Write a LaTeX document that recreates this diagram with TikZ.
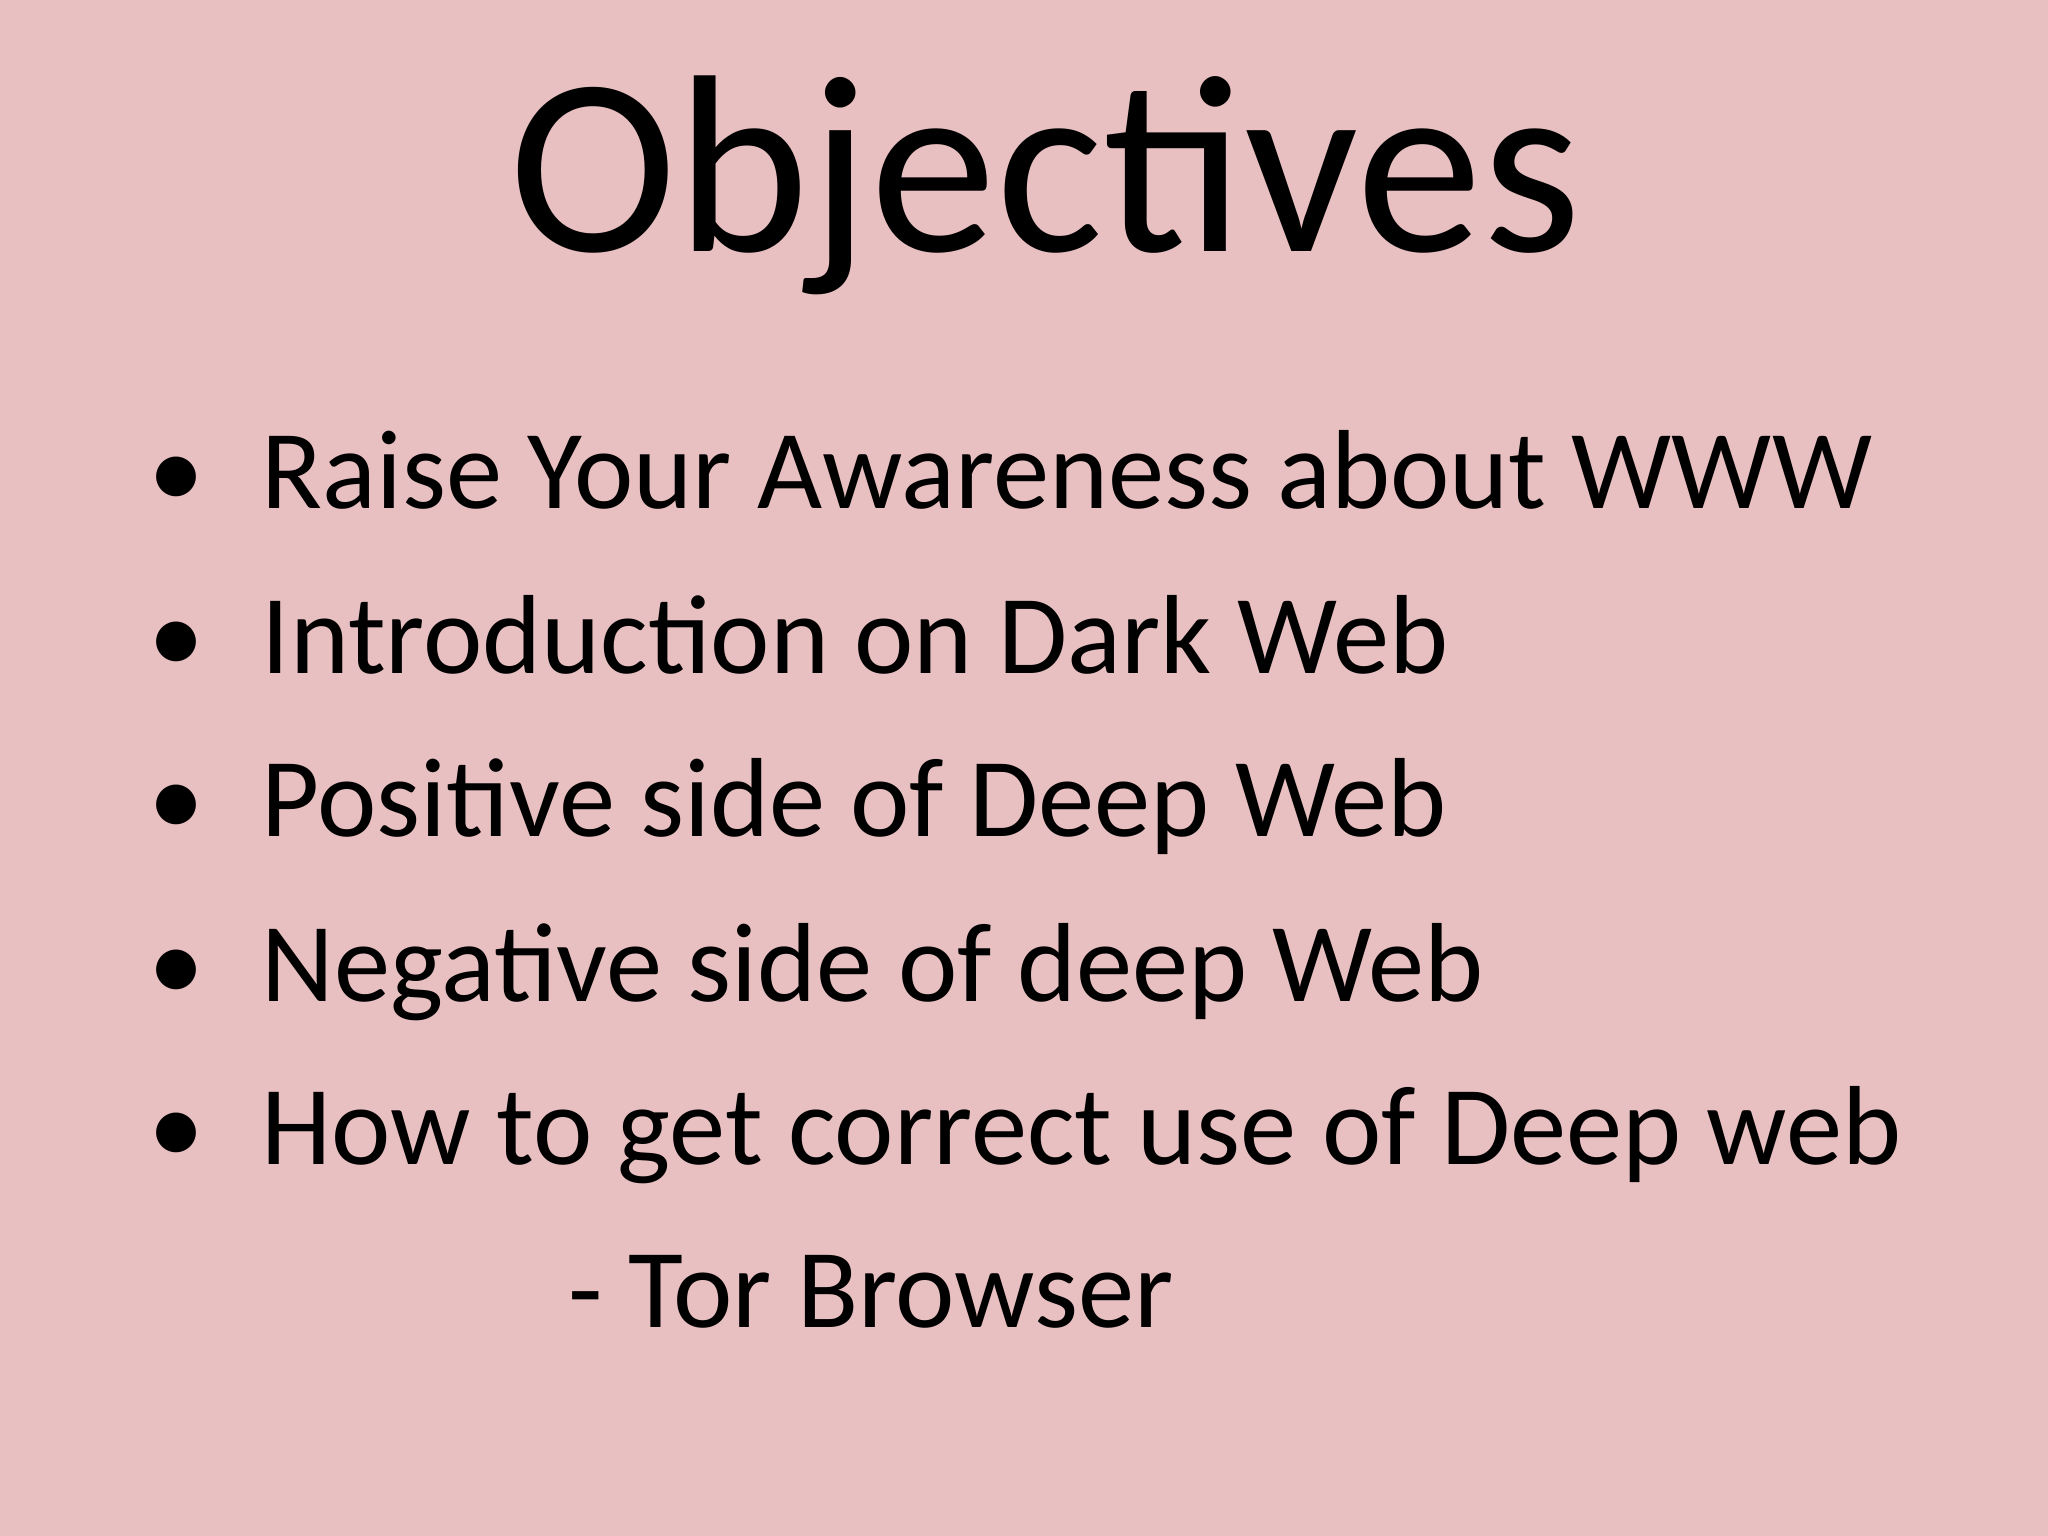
\documentclass[tikz,border=0pt]{standalone}
\usepackage{fontspec}
\setmainfont{Carlito}
\definecolor{bg}{RGB}{233,192,193}
\begin{document}
\begin{tikzpicture}[x=1cm,y=1cm,
  item/.style={anchor=base west,inner sep=0pt,font=\fontsize{32pt}{38pt}\selectfont},
  dot/.style={anchor=base,inner sep=0pt,font=\fontsize{32pt}{38pt}\selectfont}]
\fill[bg] (0,0) rectangle (20.48,15.36);
\useasboundingbox (0,0) rectangle (20.48,15.36);
\node[anchor=base,inner sep=0pt,font=\fontsize{72pt}{80pt}\selectfont] (title) at (10.45,12.84) {Objectives};
\node[item] (i1) at (2.61,10.27) {Raise Your Awareness about WWW};
\node[item] (i2) at (2.61,8.62) {Introduction on Dark Web};
\node[item] (i3) at (2.61,6.99) {Positive side of Deep Web};
\node[item] (i4) at (2.61,5.34) {Negative side of deep Web};
\node[item] (i5) at (2.61,3.71) {How to get correct use of Deep web};
\node[item] (i6) at (5.68,2.08) {- Tor Browser};
\foreach \y/\n in {10.27/b1,8.62/b2,6.99/b3,5.34/b4,3.71/b5}
  \node[dot] (\n) at (1.77,\y) {\textbullet};
\end{tikzpicture}
\end{document}
